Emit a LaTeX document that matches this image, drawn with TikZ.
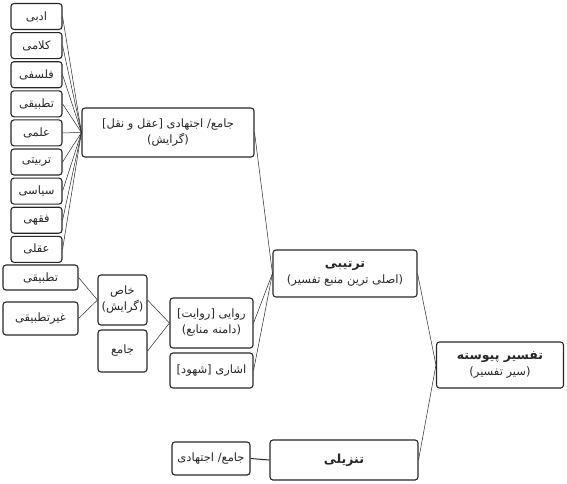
\documentclass[tikz,border=0pt]{standalone}
\usepackage{fontspec}
\newfontfamily\fa[Script=Arabic]{DejaVu Sans}
\TeXXeTstate=1
\newcommand{\RL}[1]{\beginR #1\endR}
\newcommand{\ttl}{\fontsize{12.5}{17}\selectfont\bfseries}
\begin{document}
\begin{tikzpicture}[x=1pt,y=-1pt,
  box/.style={draw=black!85, line width=1.1pt, rounded corners=3pt, inner sep=1pt,
    font=\fa\fontsize{11.5}{16}\selectfont, text=black!85, align=center},
  conn/.style={draw=black!85, line width=0.5pt}]
\useasboundingbox (0,0) rectangle (567,483);
% left column
\foreach \t [count=\i] in {ادبی,کلامی,فلسفی,تطبیقی,علمی,تربیتی,سیاسی,فقهی,عقلی}{
  \node[box, minimum width=51pt, minimum height=26pt] (l\i) at (36.5,{16.5+29.1*(\i-1)}) {\RL{\t}};
}
\node[box, minimum width=172pt, minimum height=49pt] (big) at (168,132.5)
  {\RL{جامع/ اجتهادی [عقل و نقل]}\\\RL{(گرایش)}};
\foreach \i in {1,...,9}{\draw[conn] (l\i.east) -- (big.west);}

\node[box, minimum width=75pt, minimum height=25pt] (tat) at (40.5,277.5) {\RL{تطبیقی}};
\node[box, minimum width=75pt, minimum height=33pt] (gtat) at (40.5,318.5) {\RL{غیرتطبیقی}};
\node[box, minimum width=49pt, minimum height=50pt] (khas) at (122.5,300) {\RL{خاص}\\\RL{(گرایش)}};
\node[box, minimum width=49pt, minimum height=42pt] (jame) at (122.5,351) {\RL{جامع}};
\node[box, minimum width=83pt, minimum height=50pt] (rev) at (211.5,323) {\RL{روایی [روایت]}\\\RL{(دامنه منابع)}};
\node[box, minimum width=83pt, minimum height=35pt] (esh) at (211.5,370.5) {\RL{اشاری [شهود]}};
\node[box, minimum width=144pt, minimum height=47pt] (tart) at (345,273.5) {{\ttl\RL{ترتیبی}}\\\RL{(اصلی ترین منبع تفسیر)}};
\node[box, minimum width=127pt, minimum height=46pt] (pey) at (500,365) {{\ttl\RL{تفسیر پیوسته}}\\\RL{(سیر تفسیر)}};
\node[box, minimum width=148pt, minimum height=40pt] (tanz) at (344,460) {{\ttl\RL{تنزیلی}}};
\node[box, minimum width=78pt, minimum height=33pt] (jej) at (211,458.5) {\RL{جامع/ اجتهادی}};

\draw[conn] (tat.east) -- (khas.west);
\draw[conn] (gtat.east) -- (khas.west);
\draw[conn] (khas.east) -- (rev.west);
\draw[conn] (jame.east) -- (rev.west);
\draw[conn] (big.east) -- (tart.west);
\draw[conn] (rev.east) -- (tart.west);
\draw[conn] (esh.east) -- (tart.west);
\draw[conn] (tart.east) -- (pey.west);
\draw[conn] (tanz.east) -- (pey.west);
\draw[conn, line width=1pt] (jej.east) -- (tanz.west);
\end{tikzpicture}
\end{document}
